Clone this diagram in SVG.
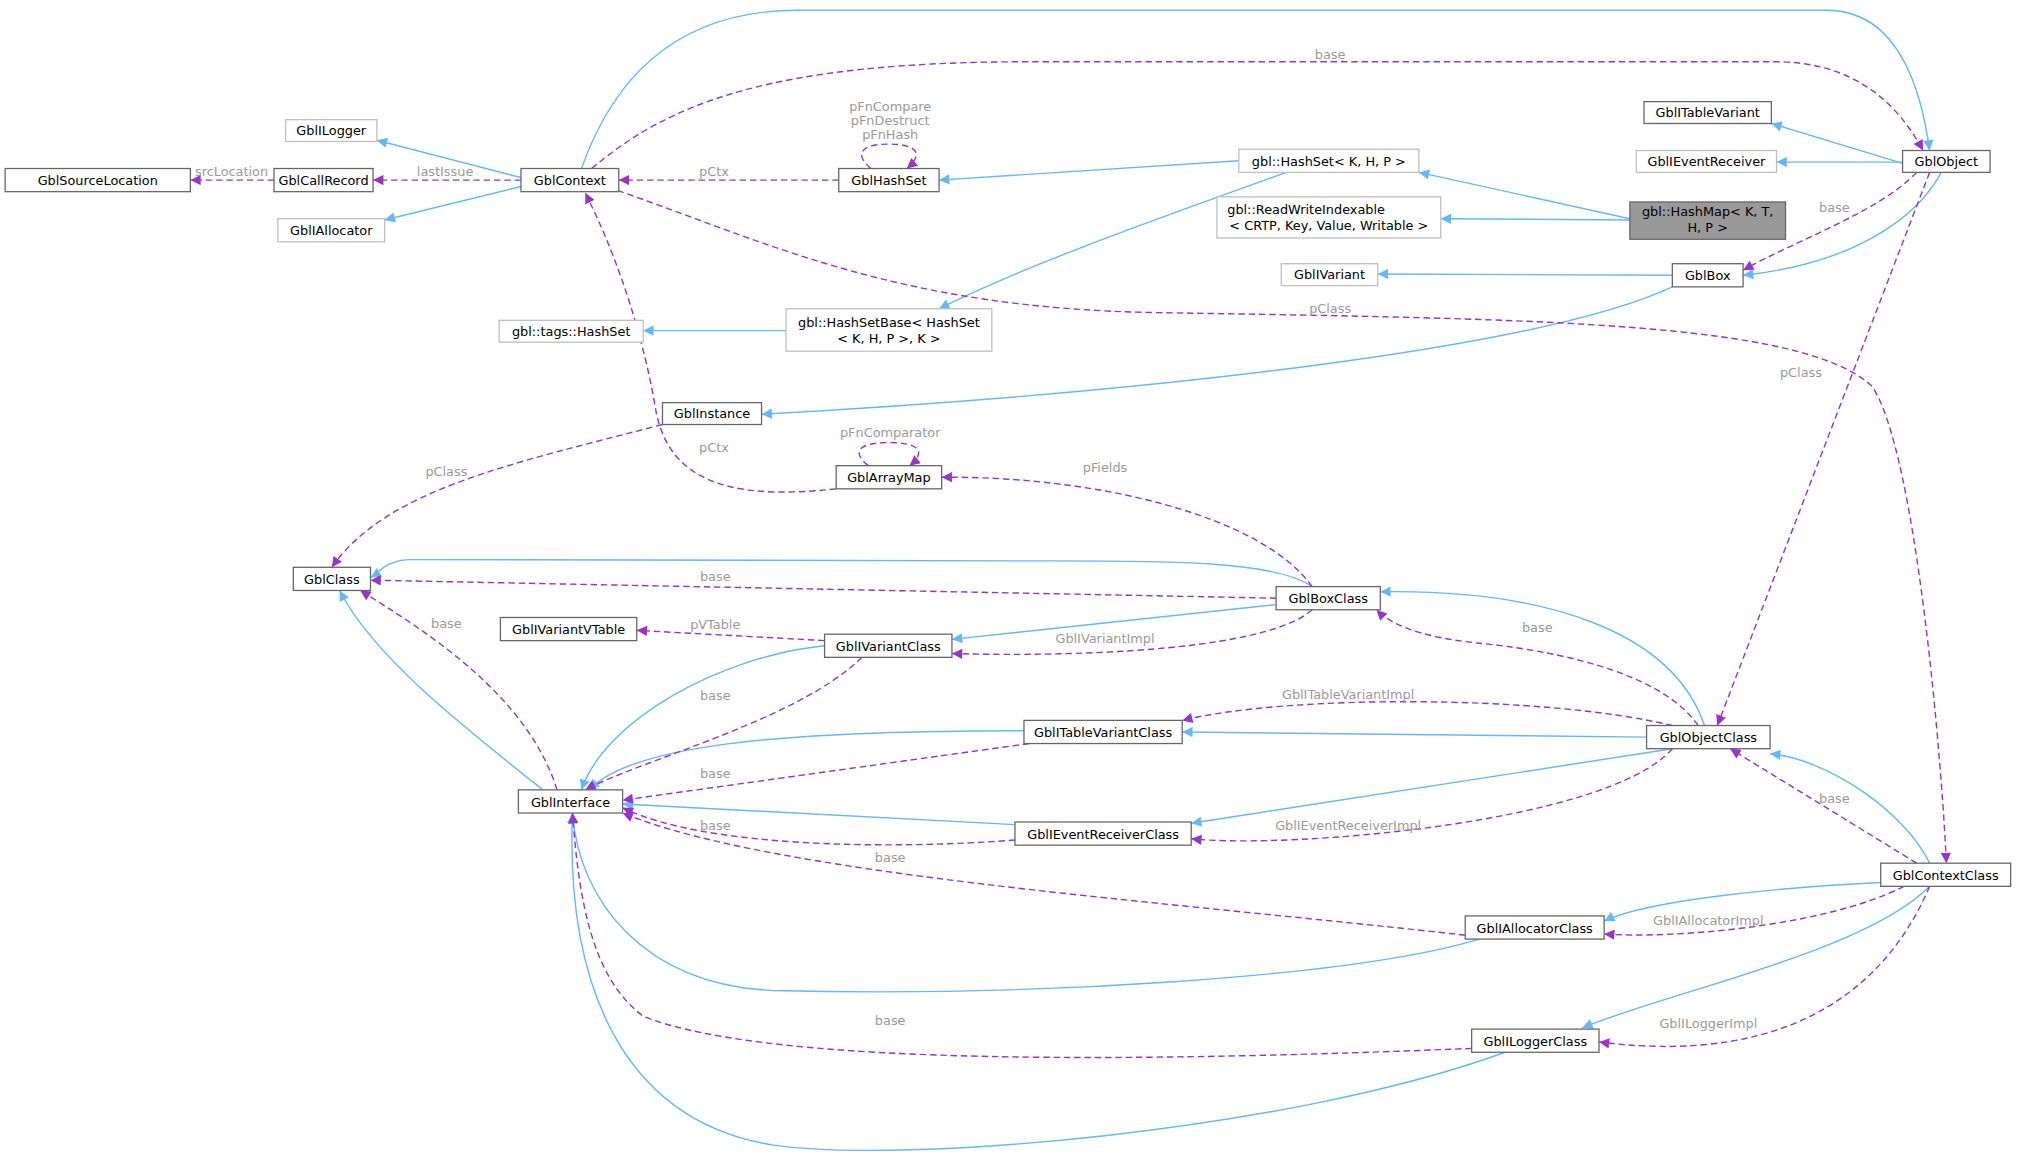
<svg xmlns="http://www.w3.org/2000/svg" width="2017" height="1167" viewBox="0 0 2017 1167">
<defs>
<style>
.n rect{fill:#fff;stroke:#666;stroke-width:1}
.n.g rect{stroke:#bfbfbf}
text{font-family:"DejaVu Sans",sans-serif;font-size:10px;fill:#000}
.l{fill:#9a9a9a;text-anchor:middle}
.t{text-anchor:middle}
.b{fill:none;stroke:#63b8ff;stroke-width:1.1;marker-end:url(#ab)}
.p{fill:none;stroke:#9a32cd;stroke-width:1.1;stroke-dasharray:5,3;marker-end:url(#ap)}
</style>
<marker id="ab" viewBox="0 0 10 10" refX="10" refY="5" markerWidth="10" markerHeight="8" markerUnits="userSpaceOnUse" orient="auto"><path d="M0,0L10,5L0,10z" fill="#63b8ff"/></marker>
<marker id="ap" viewBox="0 0 10 10" refX="10" refY="5" markerWidth="10" markerHeight="8" markerUnits="userSpaceOnUse" orient="auto"><path d="M0,0L10,5L0,10z" fill="#9a32cd"/></marker>
</defs>
<rect width="2017" height="1167" fill="#fff"/>
<g transform="scale(1.2864)">
<g id="edges">
<path class="b" d="M405,138L293,109"/>
<path class="b" d="M405,145L299,171"/>
<path class="b" d="M452,131C470,80 510,8 620,8L1420,8C1480,8 1495,80 1500,117"/>
<path class="b" d="M963,125L730,140"/>
<path class="b" d="M1267,170L1103,134"/>
<path class="b" d="M1267,171L1120,170"/>
<path class="b" d="M1479,127L1377,96"/>
<path class="b" d="M1479,126L1381,126"/>
<path class="b" d="M1509,134C1490,170 1440,205 1355,214"/>
<path class="b" d="M1300,214L1071,213"/>
<path class="b" d="M1000,134C900,170 800,205 730,240"/>
<path class="b" d="M611,257L500,257"/>
<path class="b" d="M1300,223C1200,270 900,305 592,322"/>
<path class="b" d="M1020,456C990,435 900,436 800,436L320,435C300,435 295,445 288,449"/>
<path class="b" d="M992,470L740,497"/>
<path class="b" d="M641,502C560,510 470,560 452,614"/>
<path class="b" d="M1325,564C1300,490 1200,458 1073,460"/>
<path class="b" d="M1280,573L919,569"/>
<path class="b" d="M1300,582L926,640"/>
<path class="b" d="M796,568C600,568 490,580 458,614"/>
<path class="b" d="M789,641L484,625"/>
<path class="b" d="M422,614C360,565 290,510 264,459"/>
<path class="b" d="M1500,671C1480,630 1420,590 1376,586"/>
<path class="b" d="M1462,686C1380,690 1280,700 1247,716"/>
<path class="b" d="M1500,689C1450,740 1300,770 1230,799"/>
<path class="b" d="M1150,730C1050,760 800,775 600,770C500,765 450,700 445,632"/>
<path class="b" d="M1170,818C1000,880 700,905 600,890C480,870 440,760 445,632"/>
<path class="p" d="M405,140L290,140"/>
<path class="p" d="M213,140L148,140"/>
<path class="p" d="M652,140L481,140"/>
<path class="p" d="M677,131C662,118 672,112 691,112C710,112 720,118 705,131"/>
<path class="p" d="M460,131C520,80 600,48 800,48L1380,48C1450,48 1480,90 1495,117"/>
<path class="p" d="M480,148C600,190 700,240 900,243C1200,248 1400,250 1455,300C1490,350 1510,600 1513,671"/>
<path class="p" d="M1490,134C1460,165 1400,185 1355,210"/>
<path class="p" d="M1500,134L1335,564"/>
<path class="p" d="M650,380C560,390 520,370 510,320C500,260 480,200 455,150"/>
<path class="p" d="M675,362C660,350 670,344 691,344C712,344 722,350 707,362"/>
<path class="p" d="M515,330C400,360 300,380 258,441"/>
<path class="p" d="M1020,456C980,400 850,370 732,371"/>
<path class="p" d="M992,465L288,451"/>
<path class="p" d="M1020,474C980,510 800,510 740,508"/>
<path class="p" d="M641,498L495,490"/>
<path class="p" d="M670,511C620,560 500,590 455,614"/>
<path class="p" d="M433,614C410,540 330,490 280,459"/>
<path class="p" d="M1320,564C1290,520 1200,505 1150,500C1100,495 1080,484 1070,474"/>
<path class="p" d="M1300,564C1200,540 1000,540 919,560"/>
<path class="p" d="M800,578L484,622"/>
<path class="p" d="M1300,582C1250,640 1000,660 926,652"/>
<path class="p" d="M789,653C700,660 550,660 484,628"/>
<path class="p" d="M1139,727C900,700 600,680 484,632"/>
<path class="p" d="M1490,671L1345,582"/>
<path class="p" d="M1480,689C1420,720 1300,730 1247,726"/>
<path class="p" d="M1500,689C1470,760 1400,830 1243,810"/>
<path class="p" d="M1144,815C900,825 600,830 500,790C460,760 450,700 445,632"/>
<text class="l" x="346" y="137">lastIssue</text>
<text class="l" x="180" y="137">srcLocation</text>
<text class="l" x="555" y="137">pCtx</text>
<text class="l" x="692" y="86">pFnCompare</text>
<text class="l" x="692" y="97">pFnDestruct</text>
<text class="l" x="692" y="108">pFnHash</text>
<text class="l" x="1034" y="46">base</text>
<text class="l" x="1034" y="243">pClass</text>
<text class="l" x="1426" y="165">base</text>
<text class="l" x="1400" y="293">pClass</text>
<text class="l" x="555" y="351">pCtx</text>
<text class="l" x="692" y="340">pFnComparator</text>
<text class="l" x="347" y="370">pClass</text>
<text class="l" x="859" y="367">pFields</text>
<text class="l" x="556" y="452">base</text>
<text class="l" x="859" y="500">GblIVariantImpl</text>
<text class="l" x="556" y="489">pVTable</text>
<text class="l" x="556" y="544">base</text>
<text class="l" x="347" y="488">base</text>
<text class="l" x="1195" y="491">base</text>
<text class="l" x="1048" y="543">GblITableVariantImpl</text>
<text class="l" x="556" y="605">base</text>
<text class="l" x="1048" y="645">GblIEventReceiverImpl</text>
<text class="l" x="556" y="645">base</text>
<text class="l" x="692" y="670">base</text>
<text class="l" x="1426" y="624">base</text>
<text class="l" x="1328" y="719">GblIAllocatorImpl</text>
<text class="l" x="1328" y="799">GblILoggerImpl</text>
<text class="l" x="692" y="797">base</text>
</g>
<g id="GblSourceLocation" class="n"><rect x="4" y="131" width="144" height="18"/><text class="t" x="76" y="144">GblSourceLocation</text></g>
<g id="GblCallRecord" class="n"><rect x="213" y="131" width="77" height="18"/><text class="t" x="251.5" y="144">GblCallRecord</text></g>
<g id="GblILogger" class="n g"><rect x="222" y="93" width="71" height="17"/><text class="t" x="257.5" y="105">GblILogger</text></g>
<g id="GblIAllocator" class="n g"><rect x="216" y="170" width="83" height="18"/><text class="t" x="257.5" y="183">GblIAllocator</text></g>
<g id="GblContext" class="n"><rect x="405" y="131" width="76" height="18"/><text class="t" x="443" y="144">GblContext</text></g>
<g id="GblHashSet" class="n"><rect x="652" y="131" width="78" height="18"/><text class="t" x="691" y="144">GblHashSet</text></g>
<g id="HashSet" class="n g"><rect x="963" y="116" width="140" height="18"/><text class="t" x="1033" y="129">gbl::HashSet&lt; K, H, P &gt;</text></g>
<g id="ReadWriteIndexable" class="n g"><rect x="946" y="153" width="174" height="32"/><text x="954" y="166">gbl::ReadWriteIndexable</text><text class="t" x="1033" y="179">&lt; CRTP, Key, Value, Writable &gt;</text></g>
<g id="HashMap" class="n"><rect x="1267" y="157" width="121" height="29" style="fill:#999"/><text class="t" x="1327.5" y="168">gbl::HashMap&lt; K, T,</text><text class="t" x="1327.5" y="180">H, P &gt;</text></g>
<g id="GblITableVariant" class="n"><rect x="1278" y="79" width="99" height="17"/><text class="t" x="1327.5" y="91">GblITableVariant</text></g>
<g id="GblIEventReceiver" class="n g"><rect x="1272" y="117" width="109" height="17"/><text class="t" x="1326.5" y="129">GblIEventReceiver</text></g>
<g id="GblObject" class="n"><rect x="1479" y="117" width="68" height="17"/><text class="t" x="1513" y="129">GblObject</text></g>
<g id="GblIVariant" class="n g"><rect x="996" y="205" width="75" height="17"/><text class="t" x="1033.5" y="217">GblIVariant</text></g>
<g id="GblBox" class="n"><rect x="1300" y="205" width="55" height="18"/><text class="t" x="1327.5" y="218">GblBox</text></g>
<g id="tagsHashSet" class="n g"><rect x="388" y="249" width="112" height="17"/><text class="t" x="444" y="261">gbl::tags::HashSet</text></g>
<g id="HashSetBase" class="n g"><rect x="611" y="240" width="160" height="33"/><text class="t" x="691" y="254">gbl::HashSetBase&lt; HashSet</text><text class="t" x="691" y="267">&lt; K, H, P &gt;, K &gt;</text></g>
<g id="GblInstance" class="n"><rect x="515" y="313" width="77" height="17"/><text class="t" x="553.5" y="325">GblInstance</text></g>
<g id="GblArrayMap" class="n"><rect x="650" y="362" width="82" height="18"/><text class="t" x="691" y="375">GblArrayMap</text></g>
<g id="GblClass" class="n"><rect x="228" y="441" width="60" height="18"/><text class="t" x="258" y="454">GblClass</text></g>
<g id="GblBoxClass" class="n"><rect x="992" y="456" width="81" height="18"/><text class="t" x="1032.5" y="469">GblBoxClass</text></g>
<g id="GblIVariantVTable" class="n"><rect x="389" y="480" width="106" height="18"/><text class="t" x="442" y="493">GblIVariantVTable</text></g>
<g id="GblIVariantClass" class="n"><rect x="641" y="493" width="99" height="18"/><text class="t" x="690.5" y="506">GblIVariantClass</text></g>
<g id="GblITableVariantClass" class="n"><rect x="796" y="560" width="123" height="18"/><text class="t" x="857.5" y="573">GblITableVariantClass</text></g>
<g id="GblObjectClass" class="n"><rect x="1280" y="564" width="96" height="18"/><text class="t" x="1328" y="577">GblObjectClass</text></g>
<g id="GblInterface" class="n"><rect x="403" y="614" width="81" height="18"/><text class="t" x="443.5" y="627">GblInterface</text></g>
<g id="GblIEventReceiverClass" class="n"><rect x="789" y="639" width="137" height="18"/><text class="t" x="857.5" y="652">GblIEventReceiverClass</text></g>
<g id="GblContextClass" class="n"><rect x="1462" y="671" width="101" height="18"/><text class="t" x="1512.5" y="684">GblContextClass</text></g>
<g id="GblIAllocatorClass" class="n"><rect x="1139" y="712" width="108" height="18"/><text class="t" x="1193" y="725">GblIAllocatorClass</text></g>
<g id="GblILoggerClass" class="n"><rect x="1144" y="800" width="99" height="18"/><text class="t" x="1193.5" y="813">GblILoggerClass</text></g>
</g>
</svg>
